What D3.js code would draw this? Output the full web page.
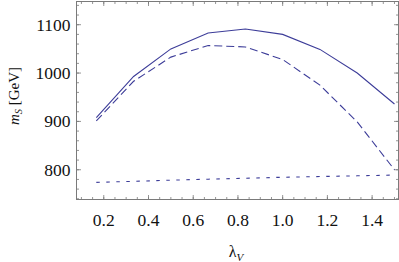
<!DOCTYPE html>
<html><head><meta charset="utf-8">
<script src="https://cdn.jsdelivr.net/npm/d3@7"></script>
<style>body{margin:0;background:#fff}svg{display:block}</style>
</head><body>
<svg id="c" width="399" height="262"></svg>
<script>
const lambdaV = [1/6, 2/6, 3/6, 4/6, 5/6, 1, 7/6, 8/6, 9/6];
const solid = [908, 993, 1050, 1083, 1091, 1080, 1049, 1000, 936];
const dashed = [901, 983, 1033, 1057, 1054, 1028, 975, 899, 800];
const dotted = [774, 776, 778.5, 780.5, 782.5, 784.5, 786, 787.5, 789];
const xTicks = [0.2, 0.4, 0.6, 0.8, 1.0, 1.2, 1.4];
const yTicks = [800, 900, 1000, 1100];

const svg = d3.select("#c");
const L = 76.5, R = 398.5, T = 1.5, B = 199.5;
const x = d3.scaleLinear().domain([0.078, 1.518]).range([L, R]);
const y = d3.scaleLinear().domain([738.5, 1148]).range([B, T]);
const frame = "#7a7a7a";
const col = "#3d3d99";
const font = "Liberation Serif, Times New Roman, serif";

const xMinor = d3.range(0.1, 1.5001, 0.05).filter(v => v >= 0.078 && v <= 1.518);
const yMinor = d3.range(740, 1141, 20);

const g = svg.append("g");
function vt(v, len, w){
  g.append("line").attr("x1", x(v)).attr("x2", x(v)).attr("y1", B).attr("y2", B - len).attr("stroke", frame).attr("stroke-width", w);
  g.append("line").attr("x1", x(v)).attr("x2", x(v)).attr("y1", T).attr("y2", T + len).attr("stroke", frame).attr("stroke-width", w);
}
function ht(v, len, w){
  g.append("line").attr("y1", y(v)).attr("y2", y(v)).attr("x1", L).attr("x2", L + len).attr("stroke", frame).attr("stroke-width", w);
  g.append("line").attr("y1", y(v)).attr("y2", y(v)).attr("x1", R).attr("x2", R - len).attr("stroke", frame).attr("stroke-width", w);
}
xMinor.forEach(v => vt(v, 2.5, 0.8));
xTicks.forEach(v => vt(v, 4.5, 0.8));
yMinor.forEach(v => ht(v, 2.5, 0.8));
yTicks.forEach(v => ht(v, 4.5, 0.8));

g.append("rect").attr("x", L).attr("y", T).attr("width", R - L).attr("height", B - T)
  .attr("fill", "none").attr("stroke", frame).attr("stroke-width", 1);

svg.append("g").selectAll("text").data(xTicks).join("text")
  .attr("x", d => x(d)).attr("y", 225.5).attr("text-anchor", "middle")
  .attr("font-family", font).attr("font-size", 17.5).attr("fill", "#111")
  .text(d => d.toFixed(1));
svg.append("g").selectAll("text").data(yTicks).join("text")
  .attr("x", 70.5).attr("y", d => y(d) + 6).attr("text-anchor", "end")
  .attr("font-family", font).attr("font-size", 17.5).attr("fill", "#111")
  .text(d => d);

const line = d3.line().x((d, i) => x(lambdaV[i])).y(d => y(d));
svg.append("clipPath").attr("id", "pc").append("rect")
  .attr("x", L).attr("y", T).attr("width", R - L).attr("height", B - T);
[[solid, null], [dashed, "8,4"], [dotted, "3.5,6.5"]].forEach(([s, dash]) => {
  svg.append("path").attr("d", line(s)).attr("fill", "none").attr("stroke", col)
    .attr("stroke-width", 1.1).attr("stroke-dasharray", dash).attr("clip-path", "url(#pc)");
});

const xt = svg.append("text").attr("x", 236).attr("y", 256.5).attr("text-anchor", "middle")
  .attr("font-family", font).attr("font-size", 16).attr("fill", "#111");
xt.append("tspan").text("λ");
xt.append("tspan").attr("font-size", 11).attr("font-style", "italic").attr("dy", 4).text("V");

const yt = svg.append("text").attr("transform", "translate(18.5,96) rotate(-90)").attr("text-anchor", "middle")
  .attr("font-family", font).attr("font-size", 15).attr("fill", "#111");
yt.append("tspan").attr("font-style", "italic").text("m");
yt.append("tspan").attr("font-size", 10.5).attr("font-style", "italic").attr("dy", 3).text("S");
yt.append("tspan").attr("dy", -3).text(" [GeV]");
</script>
</body></html>
